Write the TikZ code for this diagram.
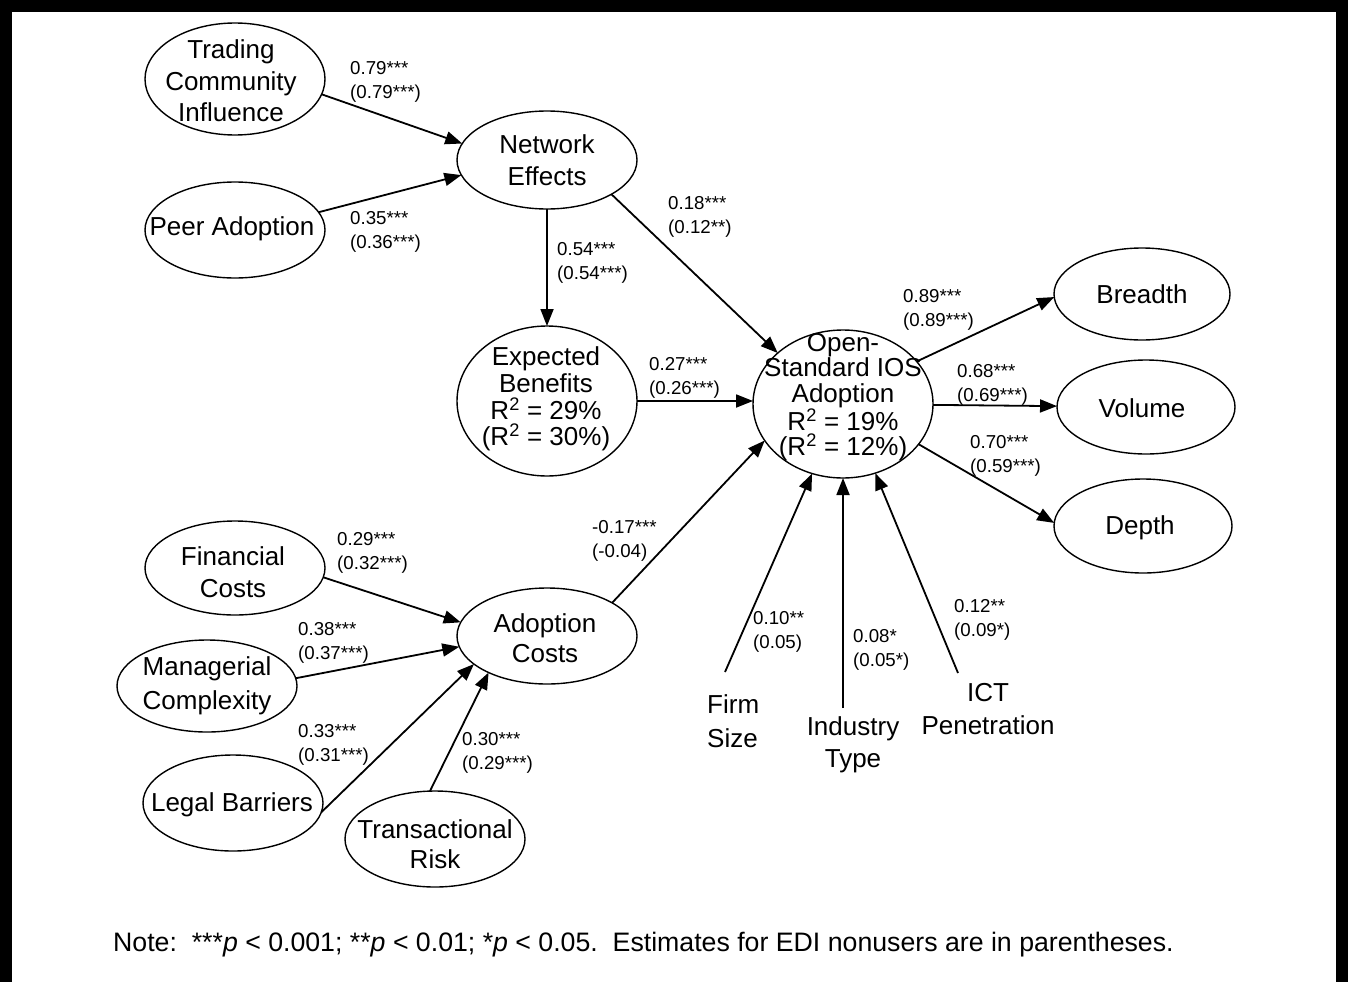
\documentclass[tikz,border=0pt]{standalone}
\usepackage{fontspec}
\setmainfont{Liberation Sans}
\usetikzlibrary{shapes.geometric,arrows.meta}
\begin{document}
\begin{tikzpicture}[x=1pt,y=-1pt,
  ell/.style={draw, ellipse, line width=1.4pt, inner sep=0pt, outer sep=0pt},
  nt/.style={align=center, inner sep=0pt, font={\fontsize{26}{32}\selectfont}},
  lab/.style={align=left, anchor=west, inner sep=0pt, font={\fontsize{18.7}{23.5}\selectfont}},
  arr/.style={-{Triangle[length=17pt,width=13pt]}, line width=1.8pt},
]
\useasboundingbox (0,0) rectangle (1348,982);
\fill[white] (0,0) rectangle (1348,982);
\fill[black] (0,0) rectangle (1348,12);
\fill[black] (0,0) rectangle (12,982);
\fill[black] (1336,0) rectangle (1348,982);

% ellipses
\node[ell, minimum width=180pt, minimum height=112pt] (tci) at (235,79) {};
\node[ell, minimum width=180pt, minimum height=96pt] (pa) at (235,230) {};
\node[ell, minimum width=180pt, minimum height=98pt] (ne) at (547,160) {};
\node[ell, minimum width=180pt, minimum height=150pt] (eb) at (547,401) {};
\node[ell, minimum width=180pt, minimum height=148pt] (os) at (843,404) {};
\node[ell, minimum width=176pt, minimum height=92pt] (br) at (1142,294) {};
\node[ell, minimum width=178pt, minimum height=94pt] (vo) at (1146,407) {};
\node[ell, minimum width=178pt, minimum height=94pt] (de) at (1143,526) {};
\node[ell, minimum width=180pt, minimum height=94pt] (fc) at (235,568) {};
\node[ell, minimum width=180pt, minimum height=92pt] (mc) at (207,686) {};
\node[ell, minimum width=180pt, minimum height=96pt] (lb) at (233,803) {};
\node[ell, minimum width=180pt, minimum height=96pt] (ac) at (547,636) {};
\node[ell, minimum width=180pt, minimum height=96pt] (tr) at (435,839) {};

% texts
\node[nt, font={\fontsize{26}{31.5}\selectfont}] (tcit) at (231,81) {Trading\\Community\\Influence};
\node[nt] (pat) at (232,229) {Peer Adoption};
\node[nt] (net) at (547,160) {Network\\Effects};
\node[nt, font={\fontsize{26}{26.7}\selectfont}] (ebt) at (546,399) {Expected\\Benefits\\R\textsuperscript{2} = 29\%\\(R\textsuperscript{2} = 30\%)};
\node[nt, font={\fontsize{26}{25.5}\selectfont}] (ost) at (843,397) {Open-\\Standard IOS\\Adoption\\R\textsuperscript{2} = 19\%\\(R\textsuperscript{2} = 12\%)};
\node[nt] (brt) at (1142,294) {Breadth};
\node[nt] (vot) at (1142,408) {Volume};
\node[nt] (det) at (1140,528) {Depth};
\node[nt] (fct) at (233,572) {Financial\\Costs};
\node[nt, font={\fontsize{26}{34}\selectfont}] (mct) at (207,686) {Managerial\\Complexity};
\node[nt] (lbt) at (232,805) {Legal Barriers};
\node[nt, font={\fontsize{26}{30}\selectfont}] (act) at (545,638) {Adoption\\Costs};
\node[nt, font={\fontsize{26}{30}\selectfont}] (trt) at (435,844) {Transactional\\Risk};
\node[nt, align=left, anchor=west, font={\fontsize{26}{34}\selectfont}] (fst) at (707,721) {Firm\\Size};
\node[nt] (itt) at (853,745) {Industry\\Type};
\node[nt, font={\fontsize{26}{33}\selectfont}] (ictt) at (988,709) {ICT\\Penetration};

% free ends of control arrows
\coordinate (fs0) at (725,672);
\coordinate (it0) at (843,708);
\coordinate (ict0) at (958,673);

% connectors
\draw[arr] (tci.-10) -- (ne.169);
\draw[arr] (pa.12) -- (ne.-170);
\draw[arr] (ne.south) -- (eb.north);
\draw[arr] (ne.-28) -- (os.142);
\draw[arr] (eb.east) -- (eb.east -| os.west);
\draw[arr] (os.30) -- (br.182);
\draw[arr] (os) -- (vo);
\draw[arr] (os.-28) -- (de.178);
\draw[arr] (ac.27) -- (os.-155);
\draw[arr] (fc.-6) -- (ac.171);
\draw[arr] (mc.5) -- (ac.-173);
\draw[arr] (lb.-6) -- (ac.-159);
\draw[arr] (tr.96) -- (ac.-148);
\draw[arr] (fs0) -- (os.-114);
\draw[arr] (it0) -- (os.south);
\draw[arr] (ict0) -- (os.-65);

% labels
\node[lab] (l1) at (350,82) {0.79***\\(0.79***)};
\node[lab] (l2) at (350,232) {0.35***\\(0.36***)};
\node[lab] (l3) at (557,263) {0.54***\\(0.54***)};
\node[lab] (l4) at (668,217) {0.18***\\(0.12**)};
\node[lab] (l5) at (649,378) {0.27***\\(0.26***)};
\node[lab] (l6) at (903,310) {0.89***\\(0.89***)};
\node[lab] (l7) at (957,385) {0.68***\\(0.69***)};
\node[lab] (l8) at (970,456) {0.70***\\(0.59***)};
\node[lab] (l9) at (592,541) {-0.17***\\(-0.04)};
\node[lab] (l10) at (337,553) {0.29***\\(0.32***)};
\node[lab] (l11) at (298,643) {0.38***\\(0.37***)};
\node[lab] (l12) at (298,745) {0.33***\\(0.31***)};
\node[lab] (l13) at (462,753) {0.30***\\(0.29***)};
\node[lab] (l14) at (753,632) {0.10**\\(0.05)};
\node[lab] (l15) at (853,650) {0.08*\\(0.05*)};
\node[lab] (l16) at (954,620) {0.12**\\(0.09*)};

% note
\node[anchor=west, inner sep=0pt, font={\fontsize{26.7}{30}\selectfont}] (note) at (113,945)
  {\frenchspacing Note:~ ***\textit{p} < 0.001; **\textit{p} < 0.01; *\textit{p} < 0.05.~ Estimates for EDI nonusers are in parentheses.};
\end{tikzpicture}
\end{document}
